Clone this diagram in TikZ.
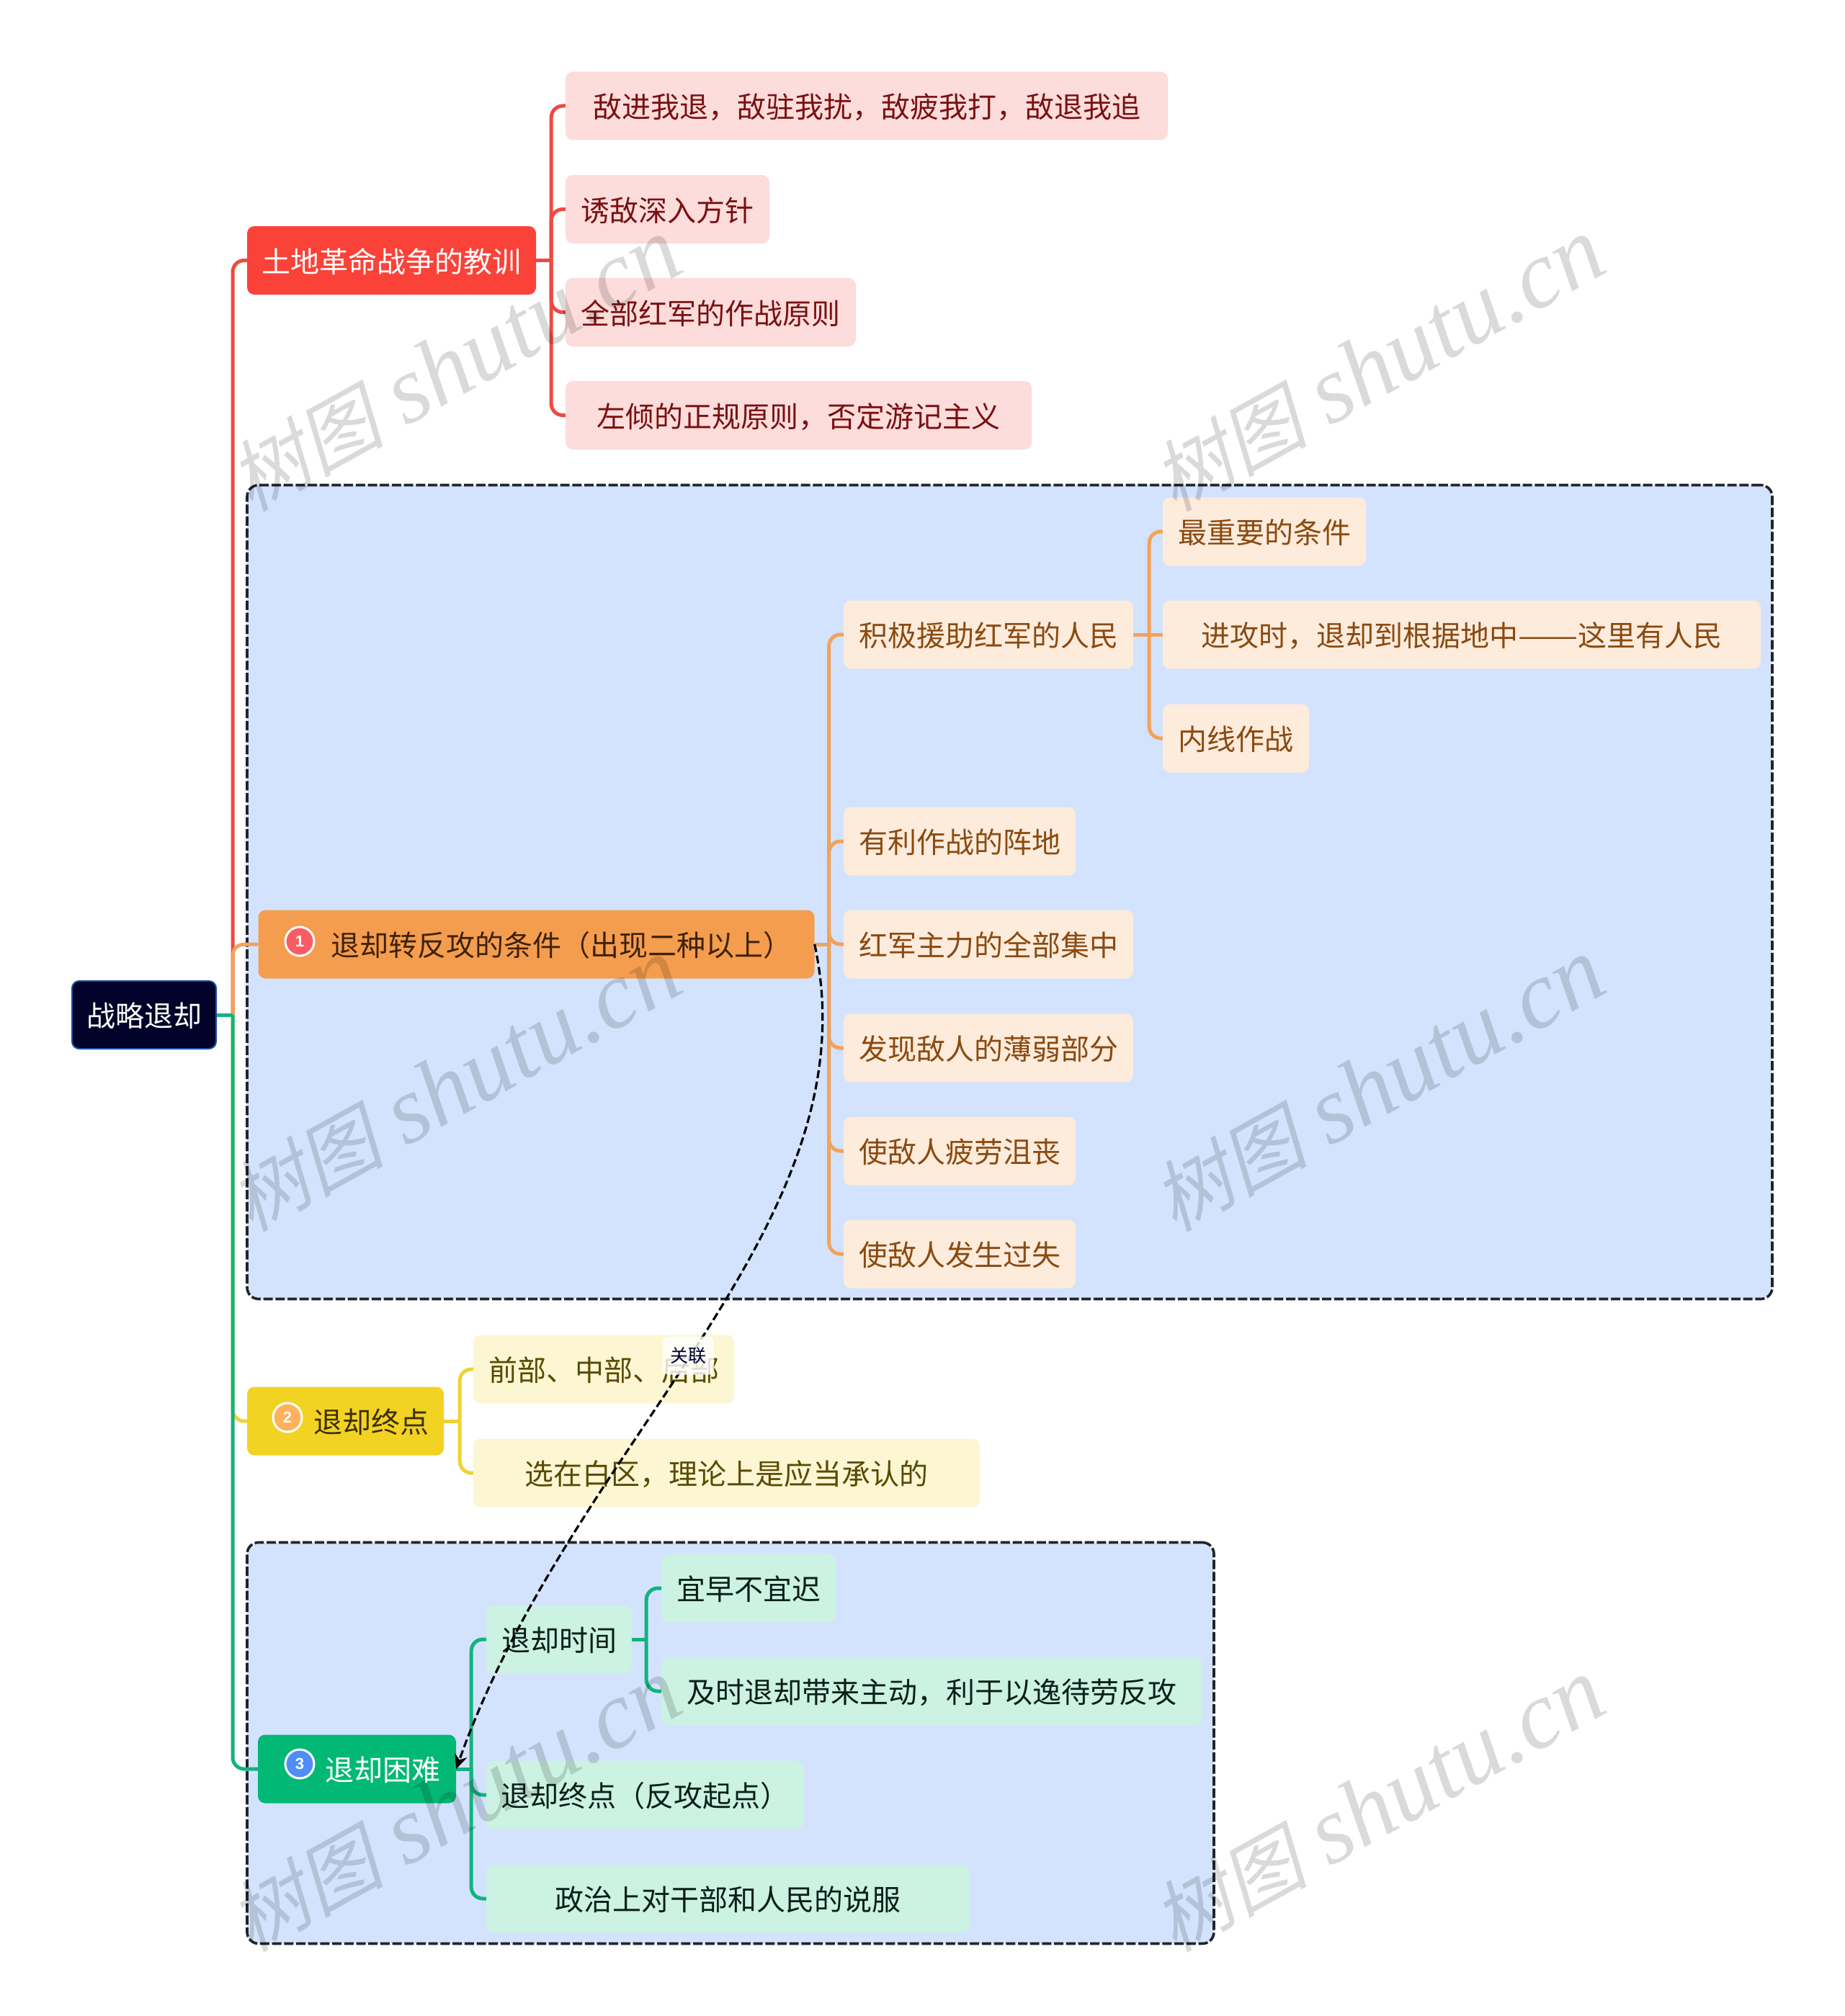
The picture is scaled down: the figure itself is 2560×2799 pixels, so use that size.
\documentclass[tikz,border=0pt]{standalone}
\usepackage{fontspec}
\setmainfont{Noto Sans CJK SC}
\newfontfamily\wmcjk[FakeSlant=0.22]{Noto Sans CJK SC}
\newfontfamily\wmlat{Liberation Serif}
\newfontfamily\digf{Liberation Sans}
\usetikzlibrary{arrows.meta}
\definecolor{rootc}{HTML}{000229}
\definecolor{rootb}{HTML}{1F4FA0}
\definecolor{redc}{HTML}{FB4239}
\definecolor{redl}{HTML}{EE4A42}
\definecolor{redk}{HTML}{FDDCDC}
\definecolor{redt}{HTML}{7A1010}
\definecolor{orgc}{HTML}{F59D4E}
\definecolor{orgl}{HTML}{F2A25A}
\definecolor{orgk}{HTML}{FDEBDC}
\definecolor{orgt}{HTML}{8A4A10}
\definecolor{orgd}{HTML}{3D2208}
\definecolor{yelc}{HTML}{F2D323}
\definecolor{yell}{HTML}{F0D232}
\definecolor{yelk}{HTML}{FCF6D3}
\definecolor{yelt}{HTML}{5A4A00}
\definecolor{yeld}{HTML}{3C3000}
\definecolor{grnc}{HTML}{02B875}
\definecolor{grnl}{HTML}{12B37E}
\definecolor{grnk}{HTML}{CBF2E2}
\definecolor{grnt}{HTML}{0B1F18}
\definecolor{grpc}{HTML}{D3E3FD}
\definecolor{dashc}{HTML}{222428}
\definecolor{ic1}{HTML}{FA5C64}
\definecolor{ic2}{HTML}{FFB05C}
\definecolor{ic3}{HTML}{4D8EF7}
\tikzset{
  base/.style={rectangle,rounded corners=10pt,inner sep=0pt,align=center,text height=36pt,text depth=2.6pt,font=\fontsize{40}{48}\selectfont},
  rootbox/.style={base,fill=rootc,draw=rootb,line width=2pt,text=white},
  redtop/.style={base,fill=redc,text=white},
  redkid/.style={base,fill=redk,text=redt},
  orgtop/.style={base,fill=orgc},
  orgkid/.style={base,fill=orgk,text=orgt},
  yeltop/.style={base,fill=yelc},
  yelkid/.style={base,fill=yelk,text=yelt},
  grntop/.style={base,fill=grnc},
  grnkid/.style={base,fill=grnk,text=grnt},
  grp/.style={rectangle,rounded corners=16pt,fill=grpc,draw=dashc,line width=3.6pt,dash pattern=on 13pt off 3.7pt,inner sep=0pt},
  link/.style={line width=5pt,rounded corners=16pt},
  stub/.style={line width=5pt},
  rel/.style={draw=black,line width=3.2pt,dash pattern=on 11pt off 5pt,-{Stealth[length=20pt,width=18pt]}},
  icon/.style={circle,draw=white,line width=3pt,minimum size=40pt,inner sep=0pt,text=white,font=\digf\bfseries\fontsize{22}{24}\selectfont},
  lbl/.style={inner sep=0pt,anchor=west,text height=36pt,text depth=2.6pt,font=\fontsize{40}{48}\selectfont},
  wm/.style={rotate=29,text=black,text opacity=0.145,inner sep=0pt,font=\fontsize{133}{140}\selectfont},
  rellab/.style={rectangle,rounded corners=8pt,fill=white,fill opacity=0.82,text opacity=1,text=black!80!blue,inner sep=0pt,minimum width=71pt,minimum height=53pt,font=\fontsize{25}{30}\selectfont},
}
\begin{document}
\begin{tikzpicture}[x=1pt,y=-1pt]
\useasboundingbox (0,0) rectangle (2560,2799);
\fill[white] (0,0) rectangle (2560,2799);
% groups
\node[grp,minimum width=2117pt,minimum height=1130pt] (g1) at (1401.5,1238.5) {};
\node[grp,minimum width=1342pt,minimum height=557pt] (g3) at (1014,2420) {};
% nodes
\node[rootbox,minimum width=200pt,minimum height=94pt] (root) at (200,1409) {战略退却};
\node[redtop,minimum width=401pt,minimum height=95pt] (a) at (543.5,361.5) {土地革命战争的教训};
\node[redkid,minimum width=836pt,minimum height=95pt] (a1) at (1203,147) {敌进我退，敌驻我扰，敌疲我打，敌退我追};
\node[redkid,minimum width=283pt,minimum height=95pt] (a2) at (926.5,290.5) {诱敌深入方针};
\node[redkid,minimum width=403pt,minimum height=95pt] (a3) at (986.5,433.5) {全部红军的作战原则};
\node[redkid,minimum width=647pt,minimum height=95pt] (a4) at (1108.5,576.5) {左倾的正规原则，否定游记主义};
\node[orgtop,minimum width=772pt,minimum height=95pt] (b) at (744.5,1311) {};
\node[icon,fill=ic1] (bi) at (416,1307) {1};
\node[lbl,text=orgd] (bt) at (459,1311) {退却转反攻的条件（出现二种以上）};
\node[orgkid,minimum width=402pt,minimum height=95pt] (b1) at (1372,881) {积极援助红军的人民};
\node[orgkid,minimum width=282pt,minimum height=95pt] (b11) at (1755,738) {最重要的条件};
\node[orgkid,minimum width=830pt,minimum height=95pt] (b12) at (2029,881) {进攻时，退却到根据地中\scalebox{1.24}[1]{——}这里有人民};
\node[orgkid,minimum width=203pt,minimum height=95pt] (b13) at (1715.5,1025) {内线作战};
\node[orgkid,minimum width=322pt,minimum height=95pt] (b2) at (1332,1168) {有利作战的阵地};
\node[orgkid,minimum width=402pt,minimum height=95pt] (b3) at (1372,1311) {红军主力的全部集中};
\node[orgkid,minimum width=402pt,minimum height=95pt] (b4) at (1372,1455) {发现敌人的薄弱部分};
\node[orgkid,minimum width=322pt,minimum height=95pt] (b5) at (1332,1598) {使敌人疲劳沮丧};
\node[orgkid,minimum width=322pt,minimum height=95pt] (b6) at (1332,1741) {使敌人发生过失};
\node[yeltop,minimum width=273pt,minimum height=95pt] (c) at (479.5,1973) {};
\node[icon,fill=ic2] (ci) at (399,1968) {2};
\node[lbl,text=yeld] (ct) at (435,1973) {退却终点};
\node[yelkid,minimum width=362pt,minimum height=95pt] (c1) at (838,1901) {前部、中部、后部};
\node[yelkid,minimum width=703pt,minimum height=95pt] (c2) at (1008.5,2045) {选在白区，理论上是应当承认的};
\node[grntop,minimum width=275pt,minimum height=95pt] (d) at (495.5,2456) {};
\node[icon,fill=ic3] (di) at (416,2449) {3};
\node[lbl,text=white] (dt) at (451,2456) {退却困难};
\node[grnkid,minimum width=202pt,minimum height=95pt] (d1) at (776,2276) {退却时间};
\node[grnkid,minimum width=242pt,minimum height=95pt] (d11) at (1039,2205) {宜早不宜迟};
\node[grnkid,minimum width=751pt,minimum height=95pt] (d12) at (1293.5,2348) {及时退却带来主动，利于以逸待劳反攻};
\node[grnkid,minimum width=441pt,minimum height=95pt] (d2) at (895.5,2492) {退却终点（反攻起点）};
\node[grnkid,minimum width=671pt,minimum height=95pt] (d3) at (1010.5,2636) {政治上对干部和人民的说服};
% junctions
\coordinate (rj) at ([xshift=22pt]root.east);
\coordinate (aj) at ([xshift=21pt]a.east);
\coordinate (bj) at ([xshift=20pt]b.east);
\coordinate (b1j) at ([xshift=22pt]b1.east);
\coordinate (cj) at ([xshift=22pt]c.east);
\coordinate (dj) at ([xshift=21pt]d.east);
\coordinate (d1j) at ([xshift=20pt]d1.east);
% connectors
\draw[link,draw=redl] (rj) |- (a.west);
\draw[link,draw=orgl] (rj) |- (b.west);
\draw[link,draw=yell] (rj) |- (c.west);
\draw[link,draw=grnl] (rj) |- (d.west);
\draw[stub,draw=grnl] (root.east) -- (rj);
\draw[stub,draw=redl] (a.east) -- (aj);
\foreach \k in {a1,a2,a3,a4} \draw[link,draw=redl] (aj) |- (\k.west);
\draw[stub,draw=orgl] (b.east) -- (bj);
\foreach \k in {b1,b2,b3,b4,b5,b6} \draw[link,draw=orgl] (bj) |- (\k.west);
\draw[stub,draw=orgl] (b1.east) -- (b12.west);
\foreach \k in {b11,b13} \draw[link,draw=orgl] (b1j) |- (\k.west);
\draw[stub,draw=yell] (c.east) -- (cj);
\foreach \k in {c1,c2} \draw[link,draw=yell] (cj) |- (\k.west);
\draw[stub,draw=grnl] (d.east) -- (dj);
\foreach \k in {d1,d2,d3} \draw[link,draw=grnl] (dj) |- (\k.west);
\draw[stub,draw=grnl] (d1.east) -- (d1j);
\foreach \k in {d11,d12} \draw[link,draw=grnl] (d1j) |- (\k.west);
% relation
\draw[rel] (b.east) .. controls (1215,1700) and (795,2000) .. (d.east);
\node[rellab] (rl) at (955.5,1882) {关联};
% watermark
\foreach \nm/\cx/\cy in {w1/631/507,w2/1913/507,w3/631/1507,w4/1913/1507,w5/631/2507,w6/1913/2507}
  \node[wm] (\nm) at (\cx,\cy) {{\wmcjk\fontsize{108}{120}\selectfont 树图} {\wmlat\itshape shutu.cn}};
\end{tikzpicture}
\end{document}
